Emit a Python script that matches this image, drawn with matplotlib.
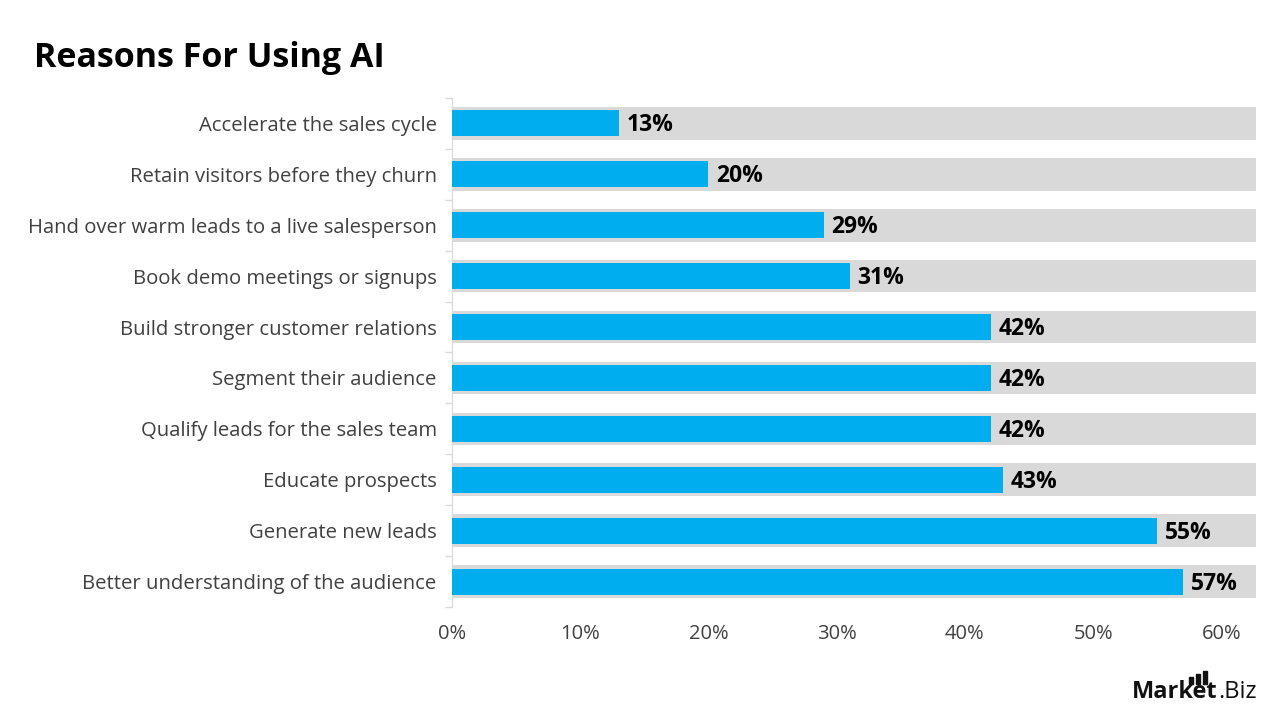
import matplotlib
matplotlib.use("Agg")
import matplotlib.pyplot as plt
from matplotlib.patches import Rectangle

# data, top to bottom as in the picture
reasons = [
    "Accelerate the sales cycle",
    "Retain visitors before they churn",
    "Hand over warm leads to a live salesperson",
    "Book demo meetings or signups",
    "Build stronger customer relations",
    "Segment their audience",
    "Qualify leads for the sales team",
    "Educate prospects",
    "Generate new leads",
    "Better understanding of the audience",
]
shares = [13, 20, 29, 31, 42, 42, 42, 43, 55, 57]
xticks = [0, 10, 20, 30, 40, 50, 60]

plt.rcParams['font.family'] = ['Open Sans', 'DejaVu Sans']

BLUE = '#00AEEF'
GREY = '#D9D9D9'
XMAX = 62.7

fig = plt.figure(figsize=(12.8, 7.2), dpi=100)
ax = fig.add_axes([452 / 1280, 1 - 607 / 720, (1256 - 452) / 1280, (607 - 98) / 720])

ypos = list(range(len(reasons)))[::-1]

ax.barh(ypos, [XMAX + 0.2] * len(reasons), left=-0.2, height=0.64, color=GREY, zorder=1)
ax.barh(ypos, shares, height=0.51, color=BLUE, zorder=2)

for y, v in zip(ypos, shares):
    ax.text(v + 0.6, y - 0.04, f"{v}%", va='center', ha='left', fontsize=16.5,
            fontweight='bold', color='black', zorder=3)

ax.set_xlim(0, XMAX)
ax.set_ylim(-0.5, len(reasons) - 0.5)

ax.set_yticks(ypos)
ax.set_yticklabels(reasons, fontsize=14.6, color='#404040')
ax.set_yticks([i + 0.5 for i in range(-1, len(reasons))], minor=True)
ax.tick_params(axis='y', which='major', length=0, pad=11)
ax.tick_params(axis='y', which='minor', length=5, color='#D9D9D9', width=1)

ax.set_xticks(xticks)
ax.set_xticklabels([f"{t}%" for t in xticks], fontsize=14.5, color='#404040')
ax.tick_params(axis='x', length=0, pad=12)

for s in ['top', 'right', 'bottom']:
    ax.spines[s].set_visible(False)
ax.spines['left'].set_color('#D9D9D9')
ax.spines['left'].set_zorder(0)

fig.text(34 / 1280, 1 - 58 / 720, "Reasons For Using AI", fontsize=24.5,
         fontweight='bold', color='black', va='center', ha='left')

# logo
fig.text(1217 / 1280, 1 - 692 / 720, "Market", fontsize=17, fontweight='bold',
         color='#111111', va='center', ha='right')
fig.text(1257 / 1280, 1 - 692 / 720, ".Biz", fontsize=17, color='#111111',
         va='center', ha='right')
for i, top in enumerate([677, 674, 671]):
    fig.patches.append(Rectangle(((1189 + i * 7) / 1280, 1 - 684 / 720), 4 / 1280,
                                 (684 - top) / 720, transform=fig.transFigure,
                                 color='#111111'))

fig.savefig("out.png", dpi=100)
